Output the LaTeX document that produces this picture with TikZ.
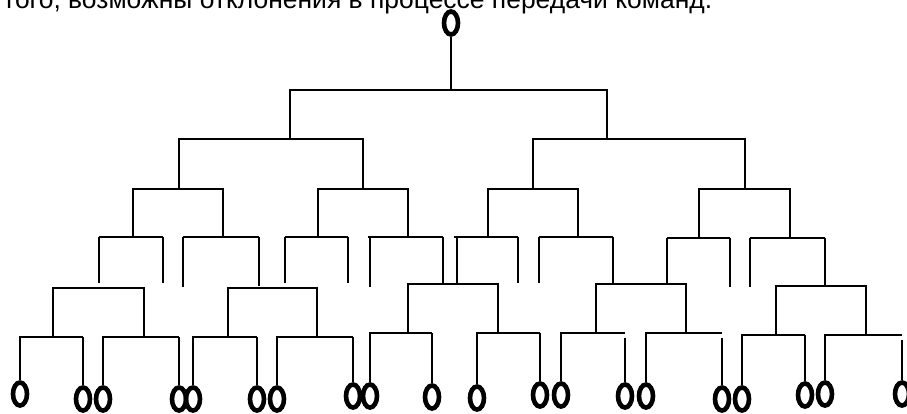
\documentclass[tikz,border=0pt]{standalone}
\usepackage{fontspec}
\setmainfont{Liberation Sans}
\usepackage{graphicx}
\usetikzlibrary{shapes.geometric}

\begin{document}
\begin{tikzpicture}[x=1pt,y=-1pt,
 br/.style={line width=1.8pt},
 leaf/.style={ellipse,draw,line width=4.6pt,minimum width=14pt,
 minimum height=23pt,inner sep=0pt}]
\useasboundingbox (0,0) rectangle (907,413);
\node[anchor=base west,inner sep=0pt] (txt) at (3,8)
 {\resizebox{709pt}{!}{того, возможны отклонения в процессе передачи команд.}};
% root and upper levels
\node[leaf] (root) at (451,23) {};
\coordinate (top) at (451,90);
\draw[br] (root.south) -- (top);
\draw[br] (290,139) |- (607,90) -- (607,139);
\draw[br] (179,189) |- (363,139) -- (363,189);
\draw[br] (533,189) |- (745,139) -- (745,189);
\foreach \a/\b/\e in {133/223/237,318/408/237,488/578/237,699/790/238}
 \draw[br] (\a,\e) |- (\b,189) -- (\b,\e);
% hanging forks
\foreach \y/\h/\a/\b/\ea/\eb in {237/99/99/163/283/283,237/183/183/259/287/286,
 237/285/285/348/283/283,237/368/370/443/287/284,237/454/457/518/284/283,
 237/539/539/613/283/284,238/667/667/730/284/287,238/750/750/825/287/286}
 \draw[br] (\h,\y) -- (\b,\y) (\a,\y) -- (\a,\ea) (\b,\y) -- (\b,\eb);
\foreach \y/\a/\b/\e in {288/53/144/337,288/228/317/337,284/408/498/333,
 284/596/686/333,286/776/866/335}
 \draw[br] (\a,\e) |- (\b,\y) -- (\b,\e);
% leaves
\foreach \n/\x/\y in {1/20/394,2/83/399,3/103/399,4/179/399,5/193/399,
 6/257/399,7/277/399,8/353/396,9/370/396,10/432/397,11/477/398,12/540/395,
 13/561/395,14/625/396,15/646/396,16/722/399,17/742/399,18/805/395,
 19/825/394,20/902/394}
 \node[leaf] (l\n) at (\x,\y) {};
\foreach \y/\b/\la/\lb/\s in {337/83/1/2/337,337/179/3/4/337,337/257/5/6/337,
 337/353/7/8/337,333/432/9/10/333,333/540/11/12/333,333/625/13/14/338,
 333/722/15/16/338,335/805/17/18/335,335/902/19/20/340}
 \draw[br] (l\la.north) |- (\b,\y) (\b,\s) -- (l\lb.north);
\end{tikzpicture}
\end{document}
